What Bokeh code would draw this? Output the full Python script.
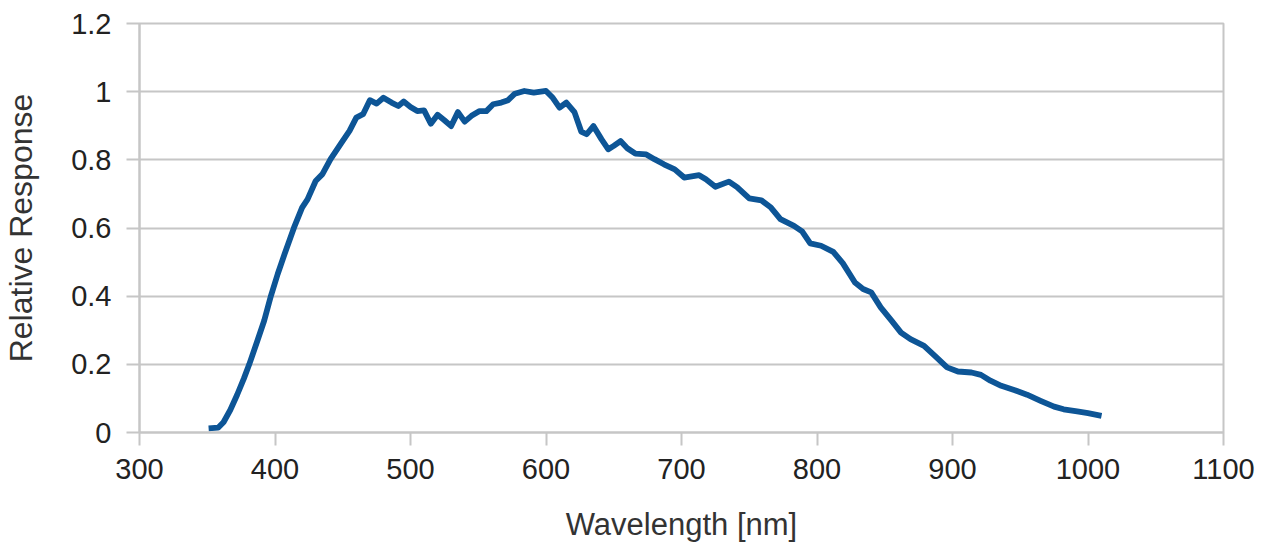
from bokeh.plotting import figure
from bokeh.models import FixedTicker, Range1d
from bokeh.embed import file_html
from bokeh.resources import INLINE

wavelength = [351, 358, 362, 367, 372, 377, 381, 387, 392, 397, 402, 407, 414, 420, 424,
              430, 435, 441, 449, 455, 460, 465, 470, 475, 480, 486, 491, 495, 500, 505,
              510, 515, 520, 525, 530, 535, 540, 545, 551, 556, 561, 567, 572, 577, 584,
              591, 600, 605, 610, 615, 621, 626, 630, 635, 641, 646, 650, 655, 660, 666,
              674, 680, 687, 695, 702, 713, 718, 725, 735, 741, 750, 759, 766, 773, 783,
              789, 795, 803, 812, 819, 828, 834, 840, 847, 855, 862, 869, 879, 887, 896,
              904, 914, 921, 928, 936, 946, 955, 965, 975, 982, 992, 1000, 1010]
response = [0.012, 0.014, 0.030, 0.066, 0.110, 0.158, 0.200, 0.269, 0.328, 0.401, 0.465,
            0.523, 0.601, 0.660, 0.684, 0.738, 0.758, 0.802, 0.850, 0.885, 0.924, 0.934,
            0.975, 0.965, 0.982, 0.968, 0.958, 0.971, 0.955, 0.943, 0.945, 0.906, 0.932,
            0.916, 0.899, 0.940, 0.912, 0.929, 0.943, 0.943, 0.963, 0.968, 0.975, 0.994,
            1.002, 0.997, 1.002, 0.982, 0.953, 0.968, 0.940, 0.883, 0.875, 0.899, 0.860,
            0.831, 0.841, 0.855, 0.834, 0.818, 0.816, 0.802, 0.787, 0.772, 0.748, 0.755,
            0.743, 0.721, 0.736, 0.720, 0.687, 0.681, 0.660, 0.626, 0.606, 0.590, 0.555,
            0.548, 0.530, 0.497, 0.440, 0.421, 0.411, 0.367, 0.328, 0.293, 0.274, 0.254,
            0.225, 0.191, 0.179, 0.176, 0.169, 0.152, 0.137, 0.124, 0.111, 0.093, 0.076,
            0.068, 0.062, 0.057, 0.049]

x_ticks = [300, 400, 500, 600, 700, 800, 900, 1000, 1100]
y_ticks = [0, 0.2, 0.4, 0.6, 0.8, 1.0, 1.2]
y_tick_labels = ["0", "0.2", "0.4", "0.6", "0.8", "1", "1.2"]

FONT = "Liberation Sans"
GRID = "#c6c6c6"

p = figure(width=1260, height=545, output_backend="svg", toolbar_location=None,
           x_range=Range1d(300, 1100), y_range=Range1d(0, 1.2),
           min_border_left=139, min_border_right=37, min_border_top=23,
           min_border_bottom=113)

p.line(wavelength, response, line_color="#0d5596", line_width=5.8, line_join="round")

p.outline_line_color = GRID
p.outline_line_width = 2
p.background_fill_color = "white"
p.border_fill_color = "white"

p.xgrid.visible = False
p.ygrid.ticker = FixedTicker(ticks=y_ticks)
p.ygrid.grid_line_color = GRID
p.ygrid.grid_line_width = 2

p.xaxis.ticker = FixedTicker(ticks=x_ticks)
p.yaxis.ticker = FixedTicker(ticks=y_ticks)
p.yaxis.major_label_overrides = {t: l for t, l in zip(y_ticks, y_tick_labels)}

for ax in (p.xaxis[0], p.yaxis[0]):
    ax.axis_line_color = GRID
    ax.axis_line_width = 2
    ax.major_tick_line_color = GRID
    ax.major_tick_line_width = 2
    ax.major_tick_in = 0
    ax.major_tick_out = 13
    ax.minor_tick_line_color = None
    ax.major_label_text_font = FONT
    ax.major_label_text_font_size = "29px"
    ax.major_label_text_color = "#222222"
    ax.axis_label_text_font = FONT
    ax.axis_label_text_font_style = "normal"
    ax.axis_label_text_font_size = "31px"
    ax.axis_label_text_color = "#333333"

p.yaxis.axis_label_text_font_size = "32px"
p.xaxis.axis_label = "Wavelength [nm]"
p.yaxis.axis_label = "Relative Response"
p.xaxis.major_label_standoff = 13
p.yaxis.major_label_standoff = 15
p.xaxis.axis_label_standoff = 25
p.yaxis.axis_label_standoff = 29

open("out.html", "w").write(file_html(p, INLINE))
